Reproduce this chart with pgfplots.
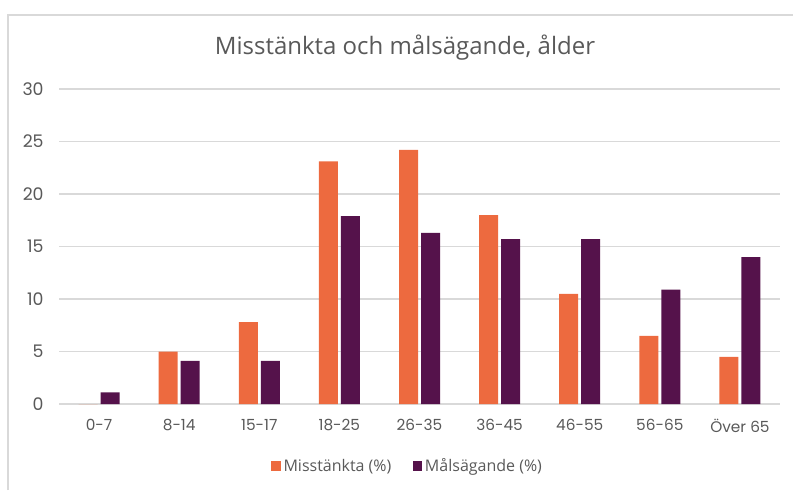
\documentclass[border=0pt]{standalone}
\usepackage{pgfplots}
\pgfplotsset{compat=1.18}
\usepackage{fontspec}
\setmainfont{Open Sans}
\newfontfamily\tickfont{Poppins}
\definecolor{orangeM}{HTML}{ED6A3F}
\definecolor{purpM}{HTML}{55124B}
\definecolor{txt}{HTML}{595959}
\definecolor{gridc}{HTML}{D9D9D9}
\begin{document}
\begin{tikzpicture}
\path[use as bounding box] (0,0) rectangle (594.75pt,367.5pt);
\draw[gridc, line width=1.2pt] (6pt,0) -- (6pt,356.25pt) -- (594.75pt,356.25pt);
\node[txt, font=\fontsize{18}{21}\selectfont] at (303.75pt,331.5pt) {Misstänkta och målsägande, ålder};
\begin{axis}[
  at={(44.25pt,64.5pt)}, anchor=south west,
  width=540.75pt, height=236.25pt, scale only axis,
  ybar=2.25pt, bar width=14.25pt,
  ymin=0, ymax=30, ytick={0,5,...,30},
  xmin=-0.5, xmax=8.5, xtick={0,...,8},
  xticklabels={0-7,8-14,15-17,18-25,26-35,36-45,46-55,56-65,Över 65},
  axis line style={draw=none}, major tick length=0pt,
  ymajorgrids, grid style={gridc, line width=1.2pt},
  /pgf/number format/assume math mode=true,
  yticklabel style={font=\tickfont\fontsize{13}{15}\selectfont, text=txt, xshift=-8pt},
  xticklabel style={font=\tickfont\fontsize{11.5}{14}\selectfont, text=txt, yshift=-8pt},
  legend style={at={(0.484,-0.197)}, anchor=center, draw=none, fill=none,
    legend columns=2, font=\fontsize{12}{14}\selectfont, text=txt,
    /tikz/every even column/.append style={column sep=14pt}},
  legend image code/.code={\fill[#1] (0pt,-3.6pt) rectangle (7.2pt,3.6pt);},
]
\addplot[fill=orangeM, draw=none] coordinates {(0,0) (1,5.0) (2,7.8) (3,23.1) (4,24.2) (5,18.0) (6,10.5) (7,6.5) (8,4.5)};
\addplot[fill=purpM, draw=none] coordinates {(0,1.1) (1,4.1) (2,4.1) (3,17.9) (4,16.3) (5,15.7) (6,15.7) (7,10.9) (8,14.0)};
\legend{Misstänkta (\%), Målsägande (\%)}
\end{axis}
\end{tikzpicture}
\end{document}
